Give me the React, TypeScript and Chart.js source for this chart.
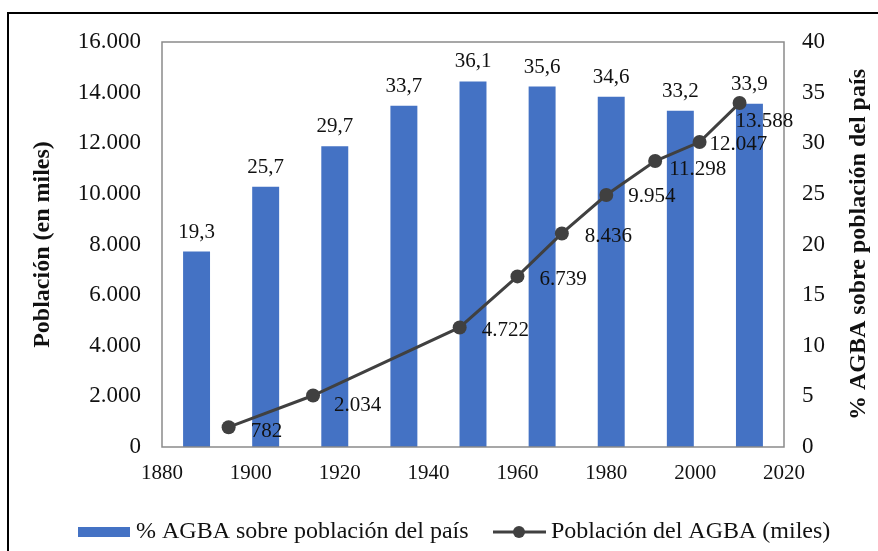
import React, { useEffect, useRef } from "react";
import { Chart, registerables } from "chart.js";

Chart.register(...registerables);

// ---- data ----
const CENSUS_YEARS = [1895, 1914, 1947, 1960, 1970, 1980, 1991, 2001, 2010];
const BAR_CATEGORIES = ["1895", "1914", "1947", "1960", "1970", "1980", "1991", "2001", "2010"];
const SHARE_PCT = [19.3, 25.7, 29.7, 33.7, 36.1, 35.6, 34.6, 33.2, 33.9];
const POPULATION_THOUSANDS = [782, 2034, 4722, 6739, 8436, 9954, 11298, 12047, 13588];

const BAR_LABEL = "% AGBA sobre población del país";
const LINE_LABEL = "Población del AGBA (miles)";
const LEFT_TITLE = "Población (en miles)";
const RIGHT_TITLE = "% AGBA sobre población del país";

// label nudges (pixels, relative to point) for the line value labels
const LINE_LABEL_NUDGE = [
  [22, 10], [21, 15], [22, 9], [22, 9], [23, 9], [22, 7], [14, 14], [10, 8], [-4, 24],
];

const FONT = "'Liberation Serif', 'Times New Roman', serif";
const TEXT = "#111111";
const BAR_COLOR = "#4472C4";
const LINE_COLOR = "#404040";

const fmtThousands = (v: number) => String(Math.round(v)).replace(/\B(?=(\d{3})+(?!\d))/g, ".");
const fmtDecimal = (v: number) => v.toFixed(1).replace(".", ",");

const decorPlugin = {
  id: "decor",
  afterDraw(chart: any) {
    const ctx = chart.ctx as CanvasRenderingContext2D;
    const a = chart.chartArea;
    ctx.save();
    // outer frame
    ctx.strokeStyle = "#000";
    ctx.lineWidth = 2;
    ctx.beginPath();
    ctx.moveTo(8, 600);
    ctx.lineTo(8, 13);
    ctx.lineTo(900, 13);
    ctx.stroke();
    // plot area border
    ctx.strokeStyle = "#8a8a8a";
    ctx.lineWidth = 1.5;
    ctx.strokeRect(a.left, a.top, a.right - a.left, a.bottom - a.top);

    // value labels
    ctx.fillStyle = TEXT;
    ctx.font = `21px ${FONT}`;
    const barMeta = chart.getDatasetMeta(1);
    ctx.textAlign = "center";
    ctx.textBaseline = "alphabetic";
    barMeta.data.forEach((el: any, i: number) => {
      ctx.fillText(fmtDecimal(SHARE_PCT[i]), el.x, el.y - 14);
    });
    const lineMeta = chart.getDatasetMeta(0);
    ctx.textAlign = "left";
    lineMeta.data.forEach((el: any, i: number) => {
      const [dx, dy] = LINE_LABEL_NUDGE[i] || [21, 10];
      ctx.fillText(fmtThousands(POPULATION_THOUSANDS[i]), el.x + dx, el.y + dy);
    });

    // axis titles
    const cy = (a.top + a.bottom) / 2;
    ctx.font = `bold 24px ${FONT}`;
    ctx.textAlign = "center";
    ctx.textBaseline = "middle";
    ctx.save();
    ctx.translate(43, cy);
    ctx.rotate(-Math.PI / 2);
    ctx.fillText(LEFT_TITLE, 0, 0);
    ctx.restore();
    ctx.save();
    ctx.translate(859, cy);
    ctx.rotate(-Math.PI / 2);
    ctx.fillText(RIGHT_TITLE, 0, 0);
    ctx.restore();

    // legend
    const ly = 532;
    ctx.font = `24px ${FONT}`;
    ctx.textAlign = "left";
    ctx.textBaseline = "middle";
    ctx.fillStyle = BAR_COLOR;
    ctx.fillRect(78, ly - 5, 52, 10);
    ctx.fillStyle = TEXT;
    ctx.fillText(BAR_LABEL, 136, ly);
    ctx.strokeStyle = LINE_COLOR;
    ctx.lineWidth = 3;
    ctx.beginPath();
    ctx.moveTo(493, ly);
    ctx.lineTo(546, ly);
    ctx.stroke();
    ctx.fillStyle = LINE_COLOR;
    ctx.beginPath();
    ctx.arc(519, ly, 6, 0, Math.PI * 2);
    ctx.fill();
    ctx.fillStyle = TEXT;
    ctx.fillText(LINE_LABEL, 551, ly);
    ctx.restore();
  },
};

export default function App() {
  const ref = useRef<HTMLCanvasElement | null>(null);
  useEffect(() => {
    if (!ref.current) return;
    const chart = new Chart(ref.current, {
      type: "bar",
      data: {
        datasets: [
          {
            type: "line",
            label: LINE_LABEL,
            data: CENSUS_YEARS.map((y, i) => ({ x: y, y: POPULATION_THOUSANDS[i] })),
            xAxisID: "x",
            yAxisID: "y",
            borderColor: LINE_COLOR,
            backgroundColor: LINE_COLOR,
            borderWidth: 3,
            pointRadius: 7,
            pointBackgroundColor: LINE_COLOR,
            pointBorderWidth: 0,
            tension: 0,
            order: 0,
          } as any,
          {
            type: "bar",
            label: BAR_LABEL,
            data: SHARE_PCT,
            xAxisID: "xb",
            yAxisID: "y1",
            backgroundColor: BAR_COLOR,
            barPercentage: 0.39,
            categoryPercentage: 1,
            grouped: false,
            order: 1,
          } as any,
        ],
      },
      options: {
        responsive: false,
        animation: false,
        layout: { padding: { top: 42, left: 0, right: 0, bottom: 0 } },
        plugins: { legend: { display: false }, tooltip: { enabled: false } },
        scales: {
          x: {
            type: "linear",
            position: "bottom",
            min: 1880,
            max: 2020,
            offset: false,
            grid: { display: false, drawTicks: false },
            border: { display: false },
            ticks: {
              stepSize: 20,
              font: { family: FONT, size: 21 },
              color: TEXT,
              padding: 14,
              maxRotation: 0,
              callback: (v: any) => String(v),
            },
            afterFit: (s: any) => { s.height = 104; },
          },
          xb: {
            type: "category",
            labels: BAR_CATEGORIES,
            display: false,
            offset: true,
          },
          y: {
            type: "linear",
            position: "left",
            min: 0,
            max: 16000,
            grid: { display: false, drawTicks: false },
            border: { display: false },
            ticks: {
              stepSize: 2000,
              font: { family: FONT, size: 23 },
              color: TEXT,
              padding: 21,
              callback: (v: any) => fmtThousands(Number(v)),
            },
            afterFit: (s: any) => { s.width = 162; },
          },
          y1: {
            type: "linear",
            position: "right",
            min: 0,
            max: 40,
            grid: { display: false, drawTicks: false },
            border: { display: false },
            ticks: {
              stepSize: 5,
              font: { family: FONT, size: 23 },
              color: TEXT,
              padding: 18,
              callback: (v: any) => String(v),
            },
            afterFit: (s: any) => { s.width = 94; },
          },
        },
      },
      plugins: [decorPlugin],
    } as any);
    return () => chart.destroy();
  }, []);
  return (
    <div style={{ position: "fixed", left: 0, top: 0, width: 878, height: 551, background: "#fff" }}>
      <canvas ref={ref} width={878} height={551} style={{ display: "block" }} />
    </div>
  );
}
